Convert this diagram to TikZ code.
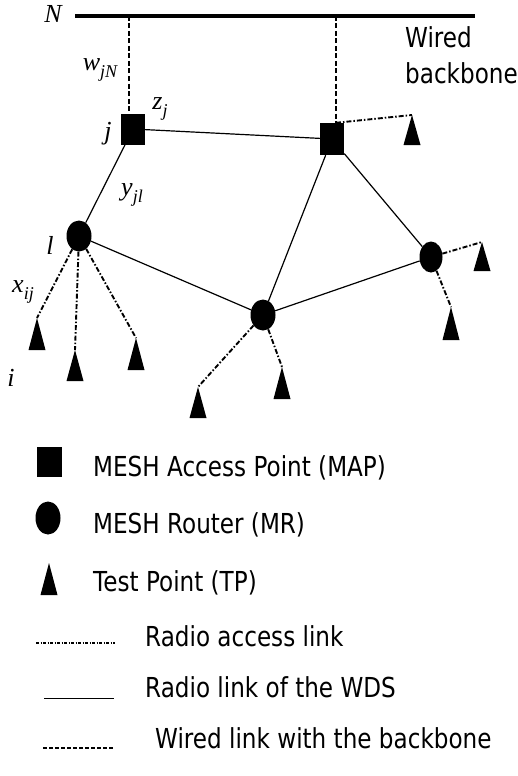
\documentclass[tikz,border=0pt]{standalone}
\usepackage{fontspec}
\setmainfont{Liberation Serif}
\newfontfamily\legfont[FakeStretch=0.84]{DejaVu Sans}
\usetikzlibrary{shapes.geometric}
\newcommand\labsub[2]{#1\raisebox{-0.28em}{\fontsize{18}{18}\selectfont #2}}
\begin{document}
\begin{tikzpicture}[x=1pt,y=-1pt,
  map/.style={rectangle,fill=black,minimum width=24pt,minimum height=31pt,inner sep=0pt},
  mr/.style={ellipse,fill=black,minimum width=25pt,minimum height=31pt,inner sep=0pt},
  wds/.style={line width=1.2pt},
  acc/.style={line width=1.9pt,dash pattern=on 5pt off 2pt on 1.5pt off 2pt},
  wired/.style={line width=1.8pt,dash pattern=on 5pt off 2.5pt},
  lab/.style={font=\fontsize{26}{28}\selectfont\itshape,inner sep=0pt},
  leg/.style={font=\legfont\fontsize{27.5}{33}\selectfont,inner sep=0pt,anchor=base west},
  tp/.pic={\fill (0,0) -- (-8.5,#1) -- (8.5,#1) -- cycle;}]
\useasboundingbox (0,0) rectangle (518,776);

% backbone
\coordinate (bbL) at (75,16);
\coordinate (bbR) at (475,16);
\draw[line width=3.5pt] (bbL) -- (bbR);
\node[lab] (N) at (53,14) {N};
\node[leg] (wb1) at (405,48) {Wired};
\node[leg] (wb2) at (405,83) {backbone};

% nodes
\node[map] (m1) at (133,129) {};
\node[map,minimum height=32pt] (m2) at (332,139) {};
\node[mr] (l) at (79,236) {};
\node[mr] (c) at (263,315) {};
\node[mr,minimum width=23pt] (r) at (431,257) {};

% wired links
\coordinate (b1) at (129,16);
\coordinate (b2) at (336,16);
\draw[wired] (b1) -- (b1 |- m1.north);
\draw[wired] (b2) -- (b2 |- m2.north);

% WDS links
\draw[wds] (m1) -- (m2);
\draw[wds] (m1) -- (l);
\draw[wds] (l) -- (c);
\draw[wds] (m2) -- (c);
\draw[wds] (m2) -- (r);
\draw[wds] (c) -- (r);

% test points
\coordinate (t0) at (412,115);
\coordinate (t1) at (37,318);
\coordinate (t2) at (75,350);
\coordinate (t3) at (136,338);
\coordinate (t4) at (198,387);
\coordinate (t5) at (282,367);
\coordinate (t6) at (482,242);
\coordinate (t7) at (451,307);
\pic at (t0) {tp=30};
\pic at (t1) {tp=32};
\pic at (t2) {tp=31};
\pic at (t3) {tp=32};
\pic at (t4) {tp=31};
\pic at (t5) {tp=32};
\pic at (t6) {tp=29};
\pic at (t7) {tp=33};

% access links
\draw[acc] (b2 |- m2.north) -- (t0);
\draw[acc] (l) -- (t1);
\draw[acc] (l) -- (t2);
\draw[acc] (l) -- (t3);
\draw[acc] (c) -- (t4);
\draw[acc] (c) -- (t5);
\draw[acc] (r) -- (t6);
\draw[acc] (r) -- (t7);

% labels
\node[lab] (wjN) at (100,70) {\labsub{w}{jN}};
\node[lab] (zj) at (160,109) {\labsub{z}{j}};
\node[lab] (jl) at (108,134) {j};
\node[lab] (yjl) at (132,195) {\labsub{y}{jl}};
\node[lab] (ll) at (50,245) {l};
\node[lab] (xij) at (23,292) {\labsub{x}{ij}};
\node[lab] (il) at (11,378) {i};

% legend
\node[map,minimum width=25pt,minimum height=30pt] (lm) at (49,462) {};
\node[leg] (lt1) at (93,476) {MESH Access Point (MAP)};
\node[mr,minimum height=33pt] (lr) at (48,518) {};
\node[leg] (lt2) at (93,533) {MESH Router (MR)};
\coordinate (ltp) at (49,563);
\pic at (ltp) {tp=32};
\node[leg] (lt3) at (93,591) {Test Point (TP)};

\coordinate (la1) at (36,643);
\coordinate (la2) at (115,643);
\draw[line width=1.4pt,dash pattern=on 3pt off 1.5pt on 1pt off 1.5pt] (la1) -- (la2);
\node[leg] (lt4) at (145,646) {Radio access link};
\coordinate (lw1) at (44,698);
\coordinate (lw2) at (114,698);
\draw[line width=1pt] (lw1) -- (lw2);
\node[leg] (lt5) at (145,697) {Radio link of the WDS};
\coordinate (ld1) at (43,748);
\coordinate (ld2) at (113,748);
\draw[line width=1.4pt,dash pattern=on 4pt off 2pt] (ld1) -- (ld2);
\node[leg] (lt6) at (155,748) {Wired link with the backbone};
\end{tikzpicture}
\end{document}
